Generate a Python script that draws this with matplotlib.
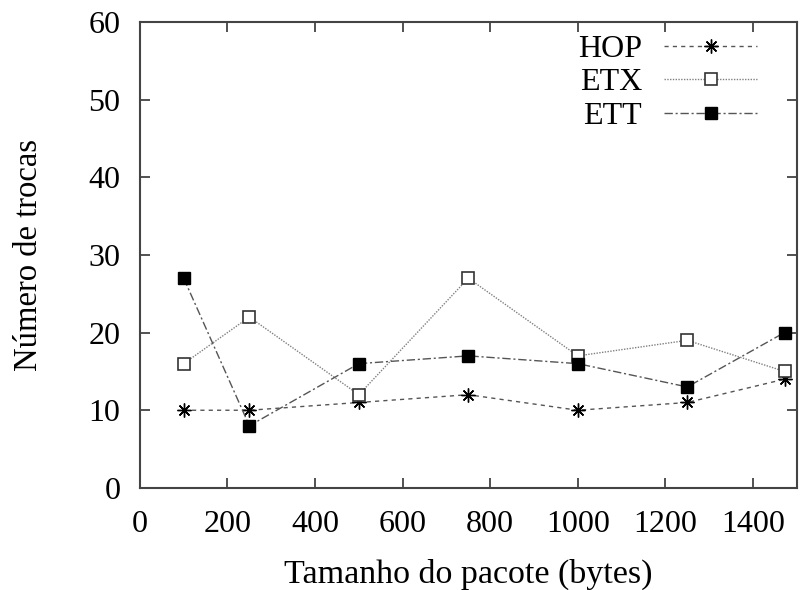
import matplotlib
matplotlib.use("Agg")
import matplotlib.pyplot as plt

plt.rcParams['font.family'] = ['Liberation Serif', 'DejaVu Serif']

tamanho = [100, 250, 500, 750, 1000, 1250, 1472]
hop = [10, 10, 11, 12, 10, 11, 14]
etx = [16, 22, 12, 27, 17, 19, 15]
ett = [27, 8, 16, 17, 16, 13, 20]
nomes = ["HOP", "ETX", "ETT"]

fig = plt.figure(figsize=(8.04, 5.90), dpi=100)
ax = fig.add_axes([0.174, 0.173, 0.817, 0.790])

ax.plot(tamanho, hop, color='#555555', lw=1.0, ls=(0, (3, 3)),
        marker=(8, 2, 0), ms=10, mec='black', mew=1.0, label=nomes[0])
ax.plot(tamanho, etx, color='#808080', lw=1.0, ls=(0, (1, 1)),
        marker='s', ms=8.5, mfc='white', mec='#333333', mew=1.2, label=nomes[1])
ax.plot(tamanho, ett, color='#555555', lw=1.0, ls=(0, (6, 2, 1.5, 2)),
        marker='s', ms=8.5, mfc='black', mec='black', label=nomes[2])

ax.set_xlim(0, 1500)
ax.set_ylim(0, 60)
ax.set_xticks(range(0, 1401, 200))
ax.set_yticks(range(0, 61, 10))
ax.tick_params(direction='in', top=True, right=True, length=7, width=1.2,
               colors='#333333', labelcolor='black', labelsize=23)
ax.tick_params(axis='x', pad=16)
ax.tick_params(axis='y', pad=14)
for s in ax.spines.values():
    s.set_color('#444444')
    s.set_linewidth(1.5)

ax.set_xlabel("Tamanho do pacote (bytes)", fontsize=24.5, labelpad=14)
ax.set_ylabel("Número de trocas", fontsize=23.5, labelpad=32)

leg = ax.legend(loc='upper right', bbox_to_anchor=(0.959, 1.0), frameon=False,
                markerfirst=False, fontsize=23, handlelength=2.9,
                labelspacing=0.13, handletextpad=0.7, borderaxespad=0.0)

fig.savefig("out.png", dpi=100)
